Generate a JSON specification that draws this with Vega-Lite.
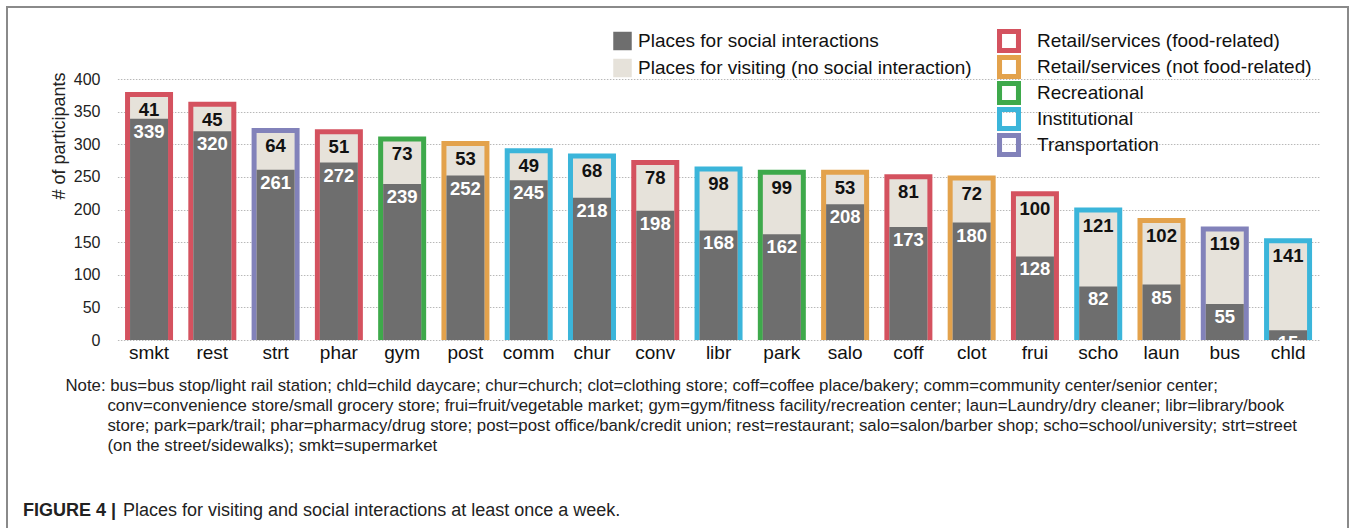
{
  "$schema": "https://vega.github.io/schema/vega-lite/v6.json",
  "width": 1341,
  "height": 540,
  "autosize": {"type": "none"},
  "padding": {"left": 7, "top": 7, "right": 9, "bottom": 0},
  "background": "white",
  "title": {
    "text": "FIGURE 4 |",
    "subtitle": "\u200b\u00a0\u00a0\u00a0\u00a0\u00a0\u00a0\u00a0\u00a0\u00a0\u00a0\u00a0\u00a0\u00a0\u00a0\u00a0\u00a0\u00a0\u00a0\u00a0\u00a0Places for visiting and social interactions at least once a week.",
    "orient": "bottom",
    "anchor": "start",
    "frame": "group",
    "offset": -45.5,
    "dx": 16,
    "font": "Liberation Sans",
    "subtitleFont": "Liberation Sans",
    "fontSize": 18,
    "fontWeight": "bold",
    "subtitleFontSize": 18,
    "subtitleFontWeight": "normal",
    "subtitlePadding": -18,
    "color": "#222222",
    "subtitleColor": "#222222"
  },
  "data": {
    "values": [
      {"place": "smkt", "category": "Retail/services (food-related)", "type": "Places for social interactions", "value": 339},
      {"place": "smkt", "category": "Retail/services (food-related)", "type": "Places for visiting (no social interaction)", "value": 41},
      {"place": "rest", "category": "Retail/services (food-related)", "type": "Places for social interactions", "value": 320},
      {"place": "rest", "category": "Retail/services (food-related)", "type": "Places for visiting (no social interaction)", "value": 45},
      {"place": "strt", "category": "Transportation", "type": "Places for social interactions", "value": 261},
      {"place": "strt", "category": "Transportation", "type": "Places for visiting (no social interaction)", "value": 64},
      {"place": "phar", "category": "Retail/services (food-related)", "type": "Places for social interactions", "value": 272},
      {"place": "phar", "category": "Retail/services (food-related)", "type": "Places for visiting (no social interaction)", "value": 51},
      {"place": "gym", "category": "Recreational", "type": "Places for social interactions", "value": 239},
      {"place": "gym", "category": "Recreational", "type": "Places for visiting (no social interaction)", "value": 73},
      {"place": "post", "category": "Retail/services (not food-related)", "type": "Places for social interactions", "value": 252},
      {"place": "post", "category": "Retail/services (not food-related)", "type": "Places for visiting (no social interaction)", "value": 53},
      {"place": "comm", "category": "Institutional", "type": "Places for social interactions", "value": 245},
      {"place": "comm", "category": "Institutional", "type": "Places for visiting (no social interaction)", "value": 49},
      {"place": "chur", "category": "Institutional", "type": "Places for social interactions", "value": 218},
      {"place": "chur", "category": "Institutional", "type": "Places for visiting (no social interaction)", "value": 68},
      {"place": "conv", "category": "Retail/services (food-related)", "type": "Places for social interactions", "value": 198},
      {"place": "conv", "category": "Retail/services (food-related)", "type": "Places for visiting (no social interaction)", "value": 78},
      {"place": "libr", "category": "Institutional", "type": "Places for social interactions", "value": 168},
      {"place": "libr", "category": "Institutional", "type": "Places for visiting (no social interaction)", "value": 98},
      {"place": "park", "category": "Recreational", "type": "Places for social interactions", "value": 162},
      {"place": "park", "category": "Recreational", "type": "Places for visiting (no social interaction)", "value": 99},
      {"place": "salo", "category": "Retail/services (not food-related)", "type": "Places for social interactions", "value": 208},
      {"place": "salo", "category": "Retail/services (not food-related)", "type": "Places for visiting (no social interaction)", "value": 53},
      {"place": "coff", "category": "Retail/services (food-related)", "type": "Places for social interactions", "value": 173},
      {"place": "coff", "category": "Retail/services (food-related)", "type": "Places for visiting (no social interaction)", "value": 81},
      {"place": "clot", "category": "Retail/services (not food-related)", "type": "Places for social interactions", "value": 180},
      {"place": "clot", "category": "Retail/services (not food-related)", "type": "Places for visiting (no social interaction)", "value": 72},
      {"place": "frui", "category": "Retail/services (food-related)", "type": "Places for social interactions", "value": 128},
      {"place": "frui", "category": "Retail/services (food-related)", "type": "Places for visiting (no social interaction)", "value": 100},
      {"place": "scho", "category": "Institutional", "type": "Places for social interactions", "value": 82},
      {"place": "scho", "category": "Institutional", "type": "Places for visiting (no social interaction)", "value": 121},
      {"place": "laun", "category": "Retail/services (not food-related)", "type": "Places for social interactions", "value": 85},
      {"place": "laun", "category": "Retail/services (not food-related)", "type": "Places for visiting (no social interaction)", "value": 102},
      {"place": "bus", "category": "Transportation", "type": "Places for social interactions", "value": 55},
      {"place": "bus", "category": "Transportation", "type": "Places for visiting (no social interaction)", "value": 119},
      {"place": "chld", "category": "Institutional", "type": "Places for social interactions", "value": 15},
      {"place": "chld", "category": "Institutional", "type": "Places for visiting (no social interaction)", "value": 141}
    ]
  },
  "encoding": {
    "x": {
      "field": "place",
      "type": "nominal",
      "sort": ["smkt", "rest", "strt", "phar", "gym", "post", "comm", "chur", "conv", "libr", "park", "salo", "coff", "clot", "frui", "scho", "laun", "bus", "chld"],
      "scale": {"range": [110.4, 1312.7], "paddingInner": 0, "paddingOuter": 0},
      "axis": {"zindex": 1},
      "title": [
        "Note: bus=bus stop/light rail station; chld=child daycare; chur=church; clot=clothing store; coff=coffee place/bakery; comm=community center/senior center;",
        "\u200b\u00a0\u00a0\u00a0\u00a0\u00a0\u00a0\u00a0\u00a0\u00a0conv=convenience store/small grocery store; frui=fruit/vegetable market; gym=gym/fitness facility/recreation center; laun=Laundry/dry cleaner; libr=library/book",
        "\u200b\u00a0\u00a0\u00a0\u00a0\u00a0\u00a0\u00a0\u00a0\u00a0store; park=park/trail; phar=pharmacy/drug store; post=post office/bank/credit union; rest=restaurant; salo=salon/barber shop; scho=school/university; strt=street",
        "\u200b\u00a0\u00a0\u00a0\u00a0\u00a0\u00a0\u00a0\u00a0\u00a0(on the street/sidewalks); smkt=supermarket"
      ]
    }
  },
  "layer": [
    {
      "mark": {"type": "bar", "width": 48},
      "encoding": {
        "y": {
          "aggregate": "sum", "field": "value", "type": "quantitative", "stack": null,
          "title": null,
          "scale": {"domain": [0, 400], "range": [333, 72], "nice": false},
          "axis": {"orient": "left", "grid": true, "labels": false, "title": null, "offset": 0, "ticks": false, "domain": false, "tickCount": 8}
        },
        "color": {
          "field": "category",
          "type": "nominal",
          "scale": {
            "domain": ["Retail/services (food-related)", "Retail/services (not food-related)", "Recreational", "Institutional", "Transportation"],
            "range": ["#d4525f", "#e3a24c", "#3ea94b", "#3bb5da", "#8282ba"]
          },
          "legend": {
            "title": null,
            "orient": "none",
            "legendX": 990,
            "legendY": 22,
            "padding": 0,
            "symbolType": "M-1,-1H1V1H-1Z M-0.58,-0.58V0.58H0.58V-0.58Z",
            "symbolSize": 576,
            "symbolStrokeWidth": 0,
            "labelFontSize": 19,
            "labelOffset": 16,
            "labelLimit": 0,
            "labelColor": "#111111",
            "rowPadding": 2
          }
        }
      }
    },
    {
      "transform": [
        {"joinaggregate": [{"op": "sum", "field": "value", "as": "total"}], "groupby": ["place"]},
        {"filter": "datum.type === 'Places for visiting (no social interaction)'"}
      ],
      "mark": {"type": "bar", "width": 38, "yOffset": 5, "y2Offset": -5},
      "encoding": {
        "y": {
          "field": "total", "type": "quantitative", "stack": null,
          "title": "# of participants",
          "axis": {"orient": "left", "grid": false, "offset": -110, "labelPadding": 17, "ticks": false, "domain": false, "tickCount": 8, "titleY": 65, "titleAlign": "right"}
        },
        "fill": {
          "field": "type",
          "type": "nominal",
          "scale": {
            "domain": ["Places for social interactions", "Places for visiting (no social interaction)"],
            "range": ["#6e6e6e", "#e6e2da"]
          },
          "legend": {
            "title": null,
            "orient": "none",
            "legendX": 606,
            "legendY": 24.5,
            "padding": 0,
            "symbolType": "square",
            "symbolSize": 342,
            "symbolStrokeWidth": 0,
            "labelFontSize": 19,
            "labelOffset": 6,
            "labelLimit": 0,
            "labelColor": "#111111",
            "rowPadding": 7
          }
        }
      }
    },
    {
      "transform": [
        {"filter": "datum.type === 'Places for social interactions'"}
      ],
      "mark": {"type": "bar", "width": 38, "y2Offset": -5},
      "encoding": {
        "y": {"field": "value", "type": "quantitative", "stack": null, "axis": null},
        "fill": {"field": "type", "type": "nominal"}
      }
    },
    {
      "transform": [
        {"joinaggregate": [{"op": "sum", "field": "value", "as": "total"}], "groupby": ["place"]},
        {"filter": "datum.type === 'Places for visiting (no social interaction)'"}
      ],
      "mark": {"type": "text", "dy": 18, "baseline": "middle", "fontWeight": "bold", "fontSize": 18.5, "fill": "#111111"},
      "encoding": {
        "y": {"field": "total", "type": "quantitative", "axis": null},
        "text": {"field": "value", "type": "quantitative"}
      }
    },
    {
      "transform": [
        {"filter": "datum.type === 'Places for social interactions'"}
      ],
      "mark": {"type": "text", "dy": 13, "baseline": "middle", "fontWeight": "bold", "fontSize": 18.5, "fill": "#ffffff"},
      "encoding": {
        "y": {"field": "value", "type": "quantitative", "axis": null},
        "text": {"field": "value", "type": "quantitative"}
      }
    }
  ],
  "resolve": {"axis": {"y": "independent"}},
  "config": {
    "font": "Liberation Sans",
    "view": {"stroke": "#8a8a8a", "strokeWidth": 2},
    "axisY": {
      "gridDash": [1.5, 1.5],
      "gridColor": "#b8b8b8",
      "labelFontSize": 16,
      "labelColor": "#222222",
      "titleFontSize": 18,
      "titleFontWeight": "normal",
      "titleColor": "#222222",
      "titlePadding": 5
    },
    "axisX": {
      "offset": -207,
      "ticks": false,
      "domain": false,
      "grid": false,
      "labelAngle": 0,
      "labelFontSize": 19,
      "labelPadding": 3,
      "labelColor": "#111111",
      "titleFontSize": 16.8,
      "titleFontWeight": "normal",
      "titleColor": "#222222",
      "titleAlign": "left",
      "titleAnchor": "start",
      "titleBaseline": "alphabetic",
      "titleX": 58,
      "titleY": 50,
      "titleLineHeight": 20.3
    }
  }
}
